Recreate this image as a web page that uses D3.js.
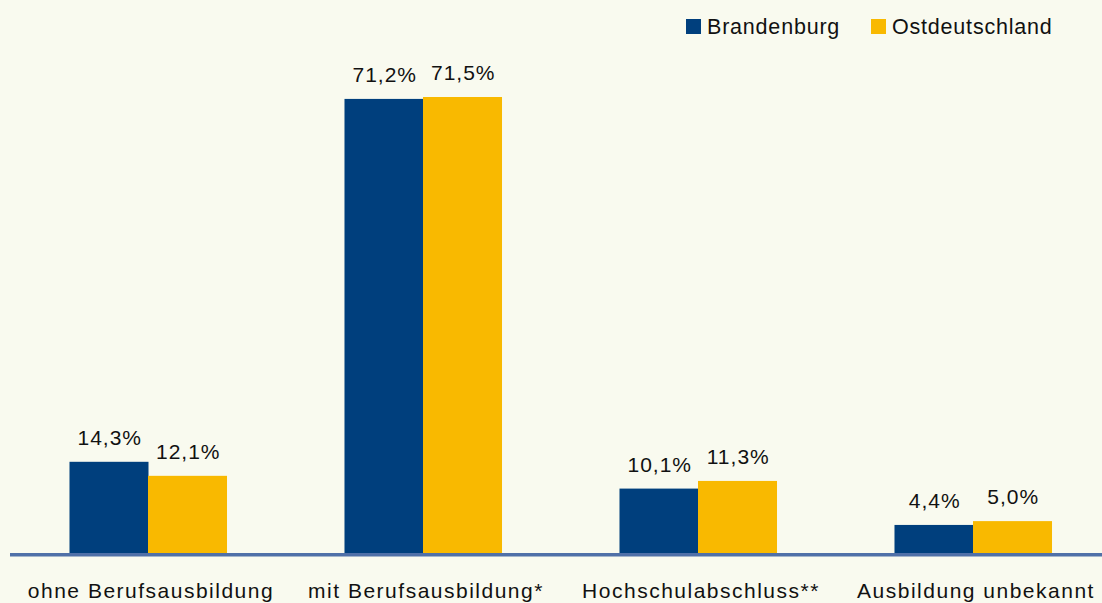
<!DOCTYPE html>
<html>
<head>
<meta charset="utf-8">
<script src="https://cdn.jsdelivr.net/npm/d3@7"></script>
<style>
  body { margin: 0; background: #f9faef; }
  svg { display: block; font-family: "Liberation Sans", Arial, sans-serif; }
</style>
</head>
<body>
<div id="chart"></div>
<script>
// categories and series
const categories = ["ohne Berufsausbildung", "mit Berufsausbildung*", "Hochschulabschluss**", "Ausbildung unbekannt"];
const series = ["Brandenburg", "Ostdeutschland"];
const brandenburg = [14.3, 71.2, 10.1, 4.4];
const ostdeutschland = [12.1, 71.5, 11.3, 5.0];

const colors = { Brandenburg: "#003f7d", Ostdeutschland: "#f9b900" };

const width = 1102, height = 603;
const margin = { top: 40, right: -8.5, bottom: 50, left: 10.5 };

const data = categories.map((c, i) => ({
  cat: c,
  values: [
    { key: "Brandenburg", value: brandenburg[i] },
    { key: "Ostdeutschland", value: ostdeutschland[i] }
  ]
}));

const fmt = v => v.toFixed(1).replace(".", ",") + "%";

let svg = d3.select("#chart")
  .append("svg")
  .attr("width", width)
  .attr("height", height);

svg.append("rect")
  .attr("width", width)
  .attr("height", height)
  .attr("fill", "#f9faef");

const x0 = d3.scaleBand()
  .domain(categories)
  .range([margin.left, width - margin.right])
  .paddingInner(0.429)
  .paddingOuter(0.2145);

const x1 = d3.scaleBand()
  .domain(series)
  .range([0, x0.bandwidth()]);

const y = d3.scaleLinear()
  .domain([0, 71.5])
  .range([553, 97]);

let group = svg.selectAll(".cat")
  .data(data)
  .join("g")
  .attr("class", "cat")
  .attr("transform", d => `translate(${x0(d.cat)},0)`);

group.selectAll("rect")
  .data(d => d.values)
  .join("rect")
  .attr("x", d => x1(d.key))
  .attr("width", x1.bandwidth() + 0.5)
  .attr("y", d => y(d.value))
  .attr("height", d => y(0) - y(d.value))
  .attr("fill", d => colors[d.key]);

group.selectAll("text.val")
  .data(d => d.values)
  .join("text")
  .attr("class", "val")
  .attr("x", d => x1(d.key) + x1.bandwidth() / 2 + 1)
  .attr("y", d => y(d.value) - 17)
  .attr("text-anchor", "middle")
  .attr("font-size", 21)
  .attr("letter-spacing", 1)
  .attr("fill", "#111")
  .text(d => fmt(d.value));

// baseline axis
svg.append("line")
  .attr("x1", 10)
  .attr("x2", width)
  .attr("y1", y(0) + 1.8)
  .attr("y2", y(0) + 1.8)
  .attr("stroke", "#5070a8")
  .attr("stroke-width", 3.5);

// category labels
svg.selectAll("text.cat")
  .data(categories)
  .join("text")
  .attr("class", "cat")
  .attr("x", d => x0(d) + x0.bandwidth() / 2 + 3)
  .attr("y", 597.5)
  .attr("text-anchor", "middle")
  .attr("font-size", 21)
  .attr("letter-spacing", 1.5)
  .attr("fill", "#111")
  .text(d => d);

// legend
const legendX = [686, 871];
let legend = svg.selectAll(".legend")
  .data(series)
  .join("g")
  .attr("class", "legend")
  .attr("transform", (d, i) => `translate(${legendX[i]},19)`);

legend.append("rect")
  .attr("width", 15)
  .attr("height", 15)
  .attr("fill", d => colors[d]);

legend.append("text")
  .attr("x", 21)
  .attr("y", 15)
  .attr("font-size", 21.5)
  .attr("letter-spacing", 0.8)
  .attr("fill", "#111")
  .text(d => d);
</script>
</body>
</html>
